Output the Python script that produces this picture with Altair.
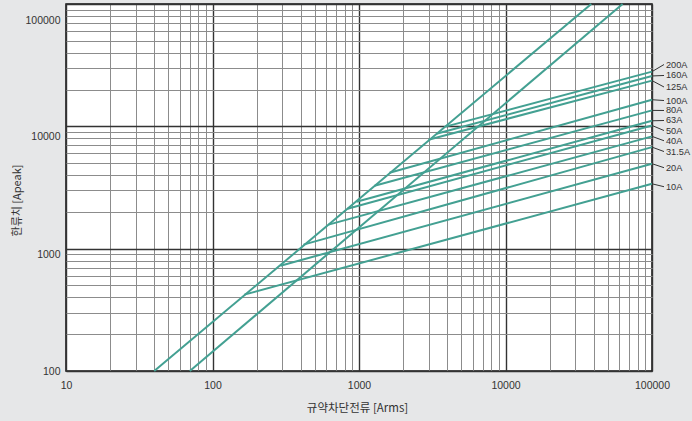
import altair as alt
import pandas as pd

# Fuse ratings and their cut-off characteristics (prospective current Arms -> let-through peak Apeak)
ratings = ["10A", "20A", "31.5A", "40A", "50A", "63A", "80A", "100A", "125A", "160A", "200A"]
start_current = [165, 291, 418, 620, 835, 962, 1277, 1616, 2980, 3380, 3893]
start_peak = [421, 726, 1079, 1572, 2123, 2422, 3273, 4180, 7780, 8710, 9940]
end_current = 100000
end_peak = [3390, 4950, 6760, 8280, 10170, 11100, 13500, 16500, 23650, 25800, 28000]

# Uncut peak-current envelopes (two straight lines on the log-log grid)
envelope_a_current = [40, 38500]
envelope_a_peak = [100, 100000]
envelope_b_current = [70, 63000]
envelope_b_peak = [100, 100000]

# Axis ticks
x_ticks = [m * 10 ** k for k in range(1, 5) for m in range(1, 10)] + [100000]
y_ticks = [m * 10 ** k for k in range(2, 5) for m in range(1, 10)] + [100000]

# Layout
PLOT_W, PLOT_H = 586, 367
PX_PER_DEC_X = PLOT_W / 4
PX_PER_DEC_Y = PLOT_H / 3
# vertical nudge (px) of each rating label away from its line end, to keep labels apart
label_shift_px = [2.9, 4.0, 4.4, 4.4, 5.1, -0.3, 0.1, 0.8, 6.4, -0.5, -7.1]
LEADER_PX = 12

TEAL = "#43a092"
TEXT = "#333333"

rows = []
for name, cur, pk in (("env_a", envelope_a_current, envelope_a_peak),
                      ("env_b", envelope_b_current, envelope_b_peak)):
    for i, (c, p) in enumerate(zip(cur, pk)):
        rows.append(dict(curve=name, current=c, peak=p, step=i))
for r, sc, sp, ep in zip(ratings, start_current, start_peak, end_peak):
    rows.append(dict(curve=r, current=sc, peak=sp, step=0))
    rows.append(dict(curve=r, current=end_current, peak=ep, step=1))
lines_df = pd.DataFrame(rows)

leader_x2 = end_current * 10 ** (LEADER_PX / PX_PER_DEC_X)
labels_df = pd.DataFrame({
    "rating": ratings,
    "current": [end_current] * len(ratings),
    "peak": end_peak,
    "current2": [leader_x2] * len(ratings),
    "label_peak": [p * 10 ** (-s / PX_PER_DEC_Y) for p, s in zip(end_peak, label_shift_px)],
})

x_scale = alt.Scale(type="log", domain=[10, 100000], nice=False)
y_scale = alt.Scale(type="log", domain=[100, 100000], nice=False)

major_test = "indexof([10,100,1000,10000,100000], datum.value) >= 0"

x_axis = alt.Axis(
    values=x_ticks,
    title="규약차단전류 [Arms]",
    titleFont="Noto Sans CJK KR", titleFontSize=11.5, titleFontWeight="normal",
    titleColor=TEXT, titleX=291, titleY=37, titleBaseline="middle",
    labelExpr=f"({major_test}) ? format(datum.value, 'd') : ''",
    labelFont="Liberation Sans", labelFontSize=10.5, labelColor=TEXT,
    labelPadding=9, labelFlush=False, labelOverlap=False, labelBound=False,
    ticks=False, domain=False,
    gridColor={"condition": {"test": major_test, "value": "#333333"}, "value": "#8c8c8c"},
    gridWidth={"condition": {"test": major_test, "value": 1.4}, "value": 1},
)
y_axis = alt.Axis(
    values=y_ticks,
    title="한류치 [Apeak]",
    titleFont="Noto Sans CJK KR", titleFontSize=11, titleFontWeight="normal",
    titleColor=TEXT, titleX=-49, titleY=196, titleBaseline="middle", titleAngle=270,
    labelExpr=f"({major_test}) ? format(datum.value, 'd') : ''",
    labelFont="Liberation Sans", labelFontSize=10.5, labelColor=TEXT,
    labelPadding=6, labelFlush=False, labelOverlap=False, labelBound=False,
    labelOffset=alt.ExprRef(expr="datum.value > 50000 ? 16 : datum.value > 5000 ? 10 : datum.value > 500 ? 6 : 0"),
    ticks=False, domain=False,
    gridColor={"condition": {"test": major_test, "value": "#333333"}, "value": "#8c8c8c"},
    gridWidth={"condition": {"test": major_test, "value": 1.4}, "value": 1},
)

curves = alt.Chart(lines_df).mark_line(color=TEAL, strokeWidth=2).encode(
    x=alt.X("current:Q", scale=x_scale, axis=x_axis),
    y=alt.Y("peak:Q", scale=y_scale, axis=y_axis),
    detail="curve:N",
    order="step:Q",
)

leaders = alt.Chart(labels_df).mark_rule(color=TEXT, strokeWidth=1).encode(
    x=alt.X("current:Q", scale=x_scale, axis=x_axis),
    x2="current2:Q",
    y=alt.Y("peak:Q", scale=y_scale, axis=y_axis),
    y2="label_peak:Q",
)

label_text = alt.Chart(labels_df).mark_text(
    align="left", baseline="middle", dx=2, font="Liberation Sans", fontSize=9.2, color=TEXT
).encode(
    x=alt.X("current2:Q", scale=x_scale, axis=x_axis),
    y=alt.Y("label_peak:Q", scale=y_scale, axis=y_axis),
    text="rating:N",
)

chart = alt.layer(curves, leaders, label_text).properties(
    width=PLOT_W,
    height=PLOT_H,
    autosize=alt.AutoSizeParams(type="none"),
    padding={"left": 66, "top": 4, "right": 40, "bottom": 50},
    background="#e6e7e8",
).configure_view(
    fill="white", stroke="#111111", strokeWidth=1.5
)

chart.save("out.html", embed_options={"renderer": "svg", "actions": False})
